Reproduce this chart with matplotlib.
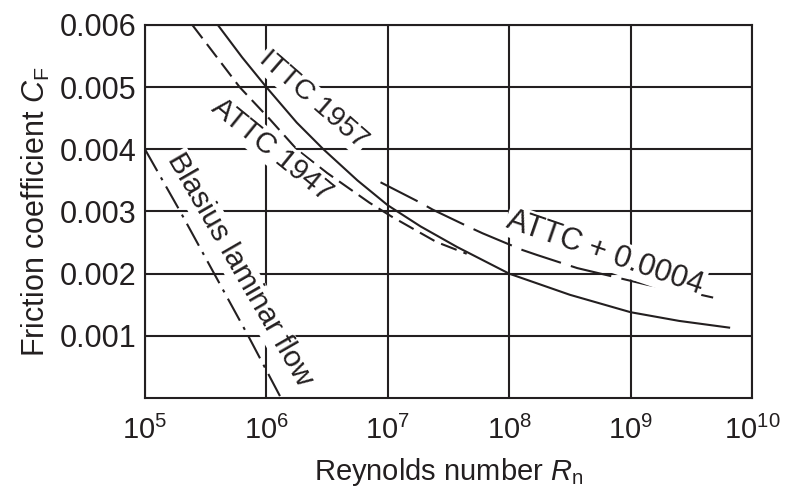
import matplotlib
matplotlib.use("Agg")
import matplotlib.pyplot as plt
import numpy as np

plt.rcParams['font.family'] = ['Liberation Sans', 'DejaVu Sans']
plt.rcParams['mathtext.fontset'] = 'custom'
plt.rcParams['mathtext.rm'] = 'Liberation Sans'
plt.rcParams['mathtext.it'] = 'Liberation Sans:italic'
plt.rcParams['mathtext.bf'] = 'Liberation Sans:bold'

# ---- data (log10 Reynolds number, friction coefficient) ----
ittc_logre = [5.60, 5.80, 6.00, 6.25, 6.47, 6.75, 7.00, 7.27, 7.57, 7.84, 8.00, 8.50, 9.00, 9.40, 9.82]
ittc_cf = [0.0060, 0.00548, 0.0050, 0.00443, 0.0040, 0.00350, 0.00310, 0.00276, 0.00243, 0.00216,
           0.00200, 0.00166, 0.00138, 0.00124, 0.00113]

attc_logre = [5.39, 5.78, 6.03, 6.25, 6.50, 6.85, 7.03, 7.40, 7.65]
attc_cf = [0.0060, 0.0050, 0.00448, 0.0040, 0.00362, 0.00314, 0.00292, 0.00251, 0.00232]

attc4_logre = [6.94, 7.27, 7.37, 7.68, 7.78, 8.11, 8.23, 8.56, 9.14, 9.51, 9.76]
attc4_cf = [0.00347, 0.00314, 0.00303, 0.00274, 0.00265, 0.00238, 0.00230, 0.00209, 0.00182, 0.00169, 0.00158]

blasius_logre = [5.0, 5.29, 5.57, 5.85, 6.12]
blasius_cf = [0.0040, 0.0030, 0.0020, 0.0010, 0.0]

x_ticks = [1e5, 1e6, 1e7, 1e8, 1e9, 1e10]
y_ticks = [0.001, 0.002, 0.003, 0.004, 0.005, 0.006]
y_ticklabels = ['0.001', '0.002', '0.003', '0.004', '0.005', '0.006']

W, H = 787, 490
fig = plt.figure(figsize=(W / 100, H / 100), dpi=100)
ax = fig.add_axes([145 / W, (H - 398) / H, (752 - 145) / W, (398 - 25) / H])

ink = '#231f20'
lw = 1.5

def re(v):
    return [10 ** a for a in v]

ax.plot(re(ittc_logre), ittc_cf, color=ink, lw=lw, solid_capstyle='butt', zorder=3)
ax.plot(re(attc_logre), attc_cf, color=ink, lw=lw, dashes=(8, 3.5), zorder=3)
ax.plot(re(attc4_logre), attc4_cf, color=ink, lw=lw, dashes=(20, 5), zorder=3)
ax.plot(re(blasius_logre), blasius_cf, color=ink, lw=lw, dashes=(12, 3.5, 1.5, 3.5), zorder=3)

ax.set_xscale('log')
ax.set_xlim(1e5, 1e10)
ax.set_ylim(0, 0.006)
ax.set_xticks(x_ticks)
ax.xaxis.set_minor_locator(matplotlib.ticker.NullLocator())
ax.set_yticks(y_ticks)
ax.set_yticklabels(y_ticklabels)
ax.grid(True, color=ink, lw=1.5, zorder=1)
ax.set_axisbelow(True)
for s in ax.spines.values():
    s.set_color(ink)
    s.set_linewidth(1.5)
ax.tick_params(axis='y', length=0, labelsize=22, colors=ink, pad=6)
ax.tick_params(axis='x', length=0, labelsize=21, colors=ink, pad=13)

ax.set_xlabel(r'Reynolds number $R_{\mathrm{n}}$', fontsize=21, color=ink, labelpad=8)
ax.set_ylabel(r'Friction coefficient $C_{\mathrm{F}}$', fontsize=22, color=ink, labelpad=6)

box = dict(facecolor='white', edgecolor='none', pad=1.0)
labels = [
    ('ITTC 1957', 6.384, 0.00479, -41, 20.5),
    ('ATTC 1947', 6.046, 0.00399, -39, 21),
    ('Blasius laminar flow', 5.78, 0.00206, -60, 21.5),
    ('ATTC + 0.0004', 8.79, 0.00233, -19, 22),
]
for txt, lx, ly, rot, fs in labels:
    ax.text(10 ** lx, ly, txt, rotation=rot, rotation_mode='anchor', ha='center', va='center',
            fontsize=fs, color=ink, bbox=box, zorder=5)

fig.savefig('out.png', dpi=100)
